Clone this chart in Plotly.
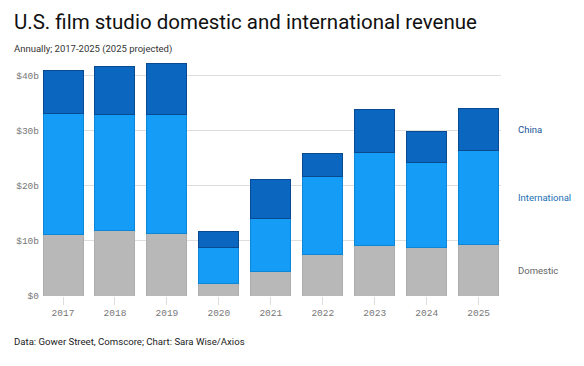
import plotly.graph_objects as go

years = ["2017", "2018", "2019", "2020", "2021", "2022", "2023", "2024", "2025"]
domestic = [11.1, 11.9, 11.4, 2.2, 4.5, 7.5, 9.1, 8.9, 9.4]
international = [22.0, 21.0, 21.6, 6.7, 9.5, 14.2, 17.0, 15.3, 17.1]
china = [7.8, 8.8, 9.2, 2.8, 7.2, 4.1, 7.7, 5.7, 7.6]

y_tickvals = [0, 10, 20, 30, 40]
y_ticktext = ["$0", "$10b", "$20b", "$30b", "$40b"]

series_names = ["Domestic", "International", "China"]

sans = "Roboto, Arial, sans-serif"
mono = "Liberation Mono, DejaVu Sans Mono, monospace"

# page body has an 8px margin: lay out in a 576x358 frame offset by 8px
OFF = 8
W, H = 584 - OFF, 366 - OFF
PL, PR, PT, PB = 43 - OFF, 501 - OFF, 62 - OFF, 296 - OFF

fig = go.Figure()
fig.add_trace(go.Bar(x=years, y=domestic, name="Domestic",
                     marker=dict(color="#b8b8b8", line=dict(color="#adadad", width=1))))
fig.add_trace(go.Bar(x=years, y=international, name="International",
                     marker=dict(color="#149cf6", line=dict(color="#0e86d6", width=1))))
fig.add_trace(go.Bar(x=years, y=china, name="China",
                     marker=dict(color="#0b66c0", line=dict(color="#08498f", width=1))))

fig.update_layout(
    barmode="stack",
    bargap=0.23,
    width=W, height=H,
    margin=dict(l=PL, r=W - PR, t=PT, b=H - PB, autoexpand=False),
    paper_bgcolor="white", plot_bgcolor="white",
    showlegend=False,
    font=dict(family=sans, color="#333"),
    xaxis=dict(
        type="category", automargin=False,
        range=[-0.385, 8.43],
        showgrid=False, zeroline=False, showline=False,
        ticks="outside", ticklen=8, tickcolor="#dddddd", tickwidth=1,
        ticklabelstandoff=0,
        tickfont=dict(family=mono, size=9.5, color="#777777"),
    ),
    yaxis=dict(
        automargin=False,
        range=[0, 42.5],
        tickvals=y_tickvals, ticktext=y_ticktext,
        showgrid=True, gridcolor="#dedede", gridwidth=1,
        zeroline=False, showline=False, ticks="",
        ticklabelstandoff=3,
        tickfont=dict(family=mono, size=9.5, color="#777777"),
    ),
)

def px_to_paper(xp, yp):
    return (xp - OFF - PL) / (PR - PL), (PB - (yp - OFF)) / (PB - PT)

annotations = [
    dict(text="U.S. film studio domestic and international revenue", x=12, y=22,
         font=dict(size=20.5, color="#111111", family=sans)),
    dict(text="Annually; 2017-2025 (2025 projected)", x=12, y=49,
         font=dict(size=9.5, color="#333333", family=sans)),
    dict(text="Data: Gower Street, Comscore; Chart: Sara Wise/Axios", x=12, y=341,
         font=dict(size=9.6, color="#222222", family=sans)),
]
for a in annotations:
    px, py = px_to_paper(a["x"], a["y"])
    fig.add_annotation(text=a["text"], xref="paper", yref="paper", x=px, y=py,
                       xanchor="left", yanchor="middle", showarrow=False, font=a["font"])

label_colors = {"China": "#1a5598", "International": "#1b70b4", "Domestic": "#666666"}
label_pos = {"China": 130, "International": 197, "Domestic": 270}
for name in series_names:
    px, py = px_to_paper(516, label_pos[name])
    fig.add_annotation(text=name, xref="paper", yref="paper", x=px, y=py,
                       xanchor="left", yanchor="middle", showarrow=False,
                       font=dict(size=9.5, color=label_colors[name], family=sans))

fig.write_html("out.html")
